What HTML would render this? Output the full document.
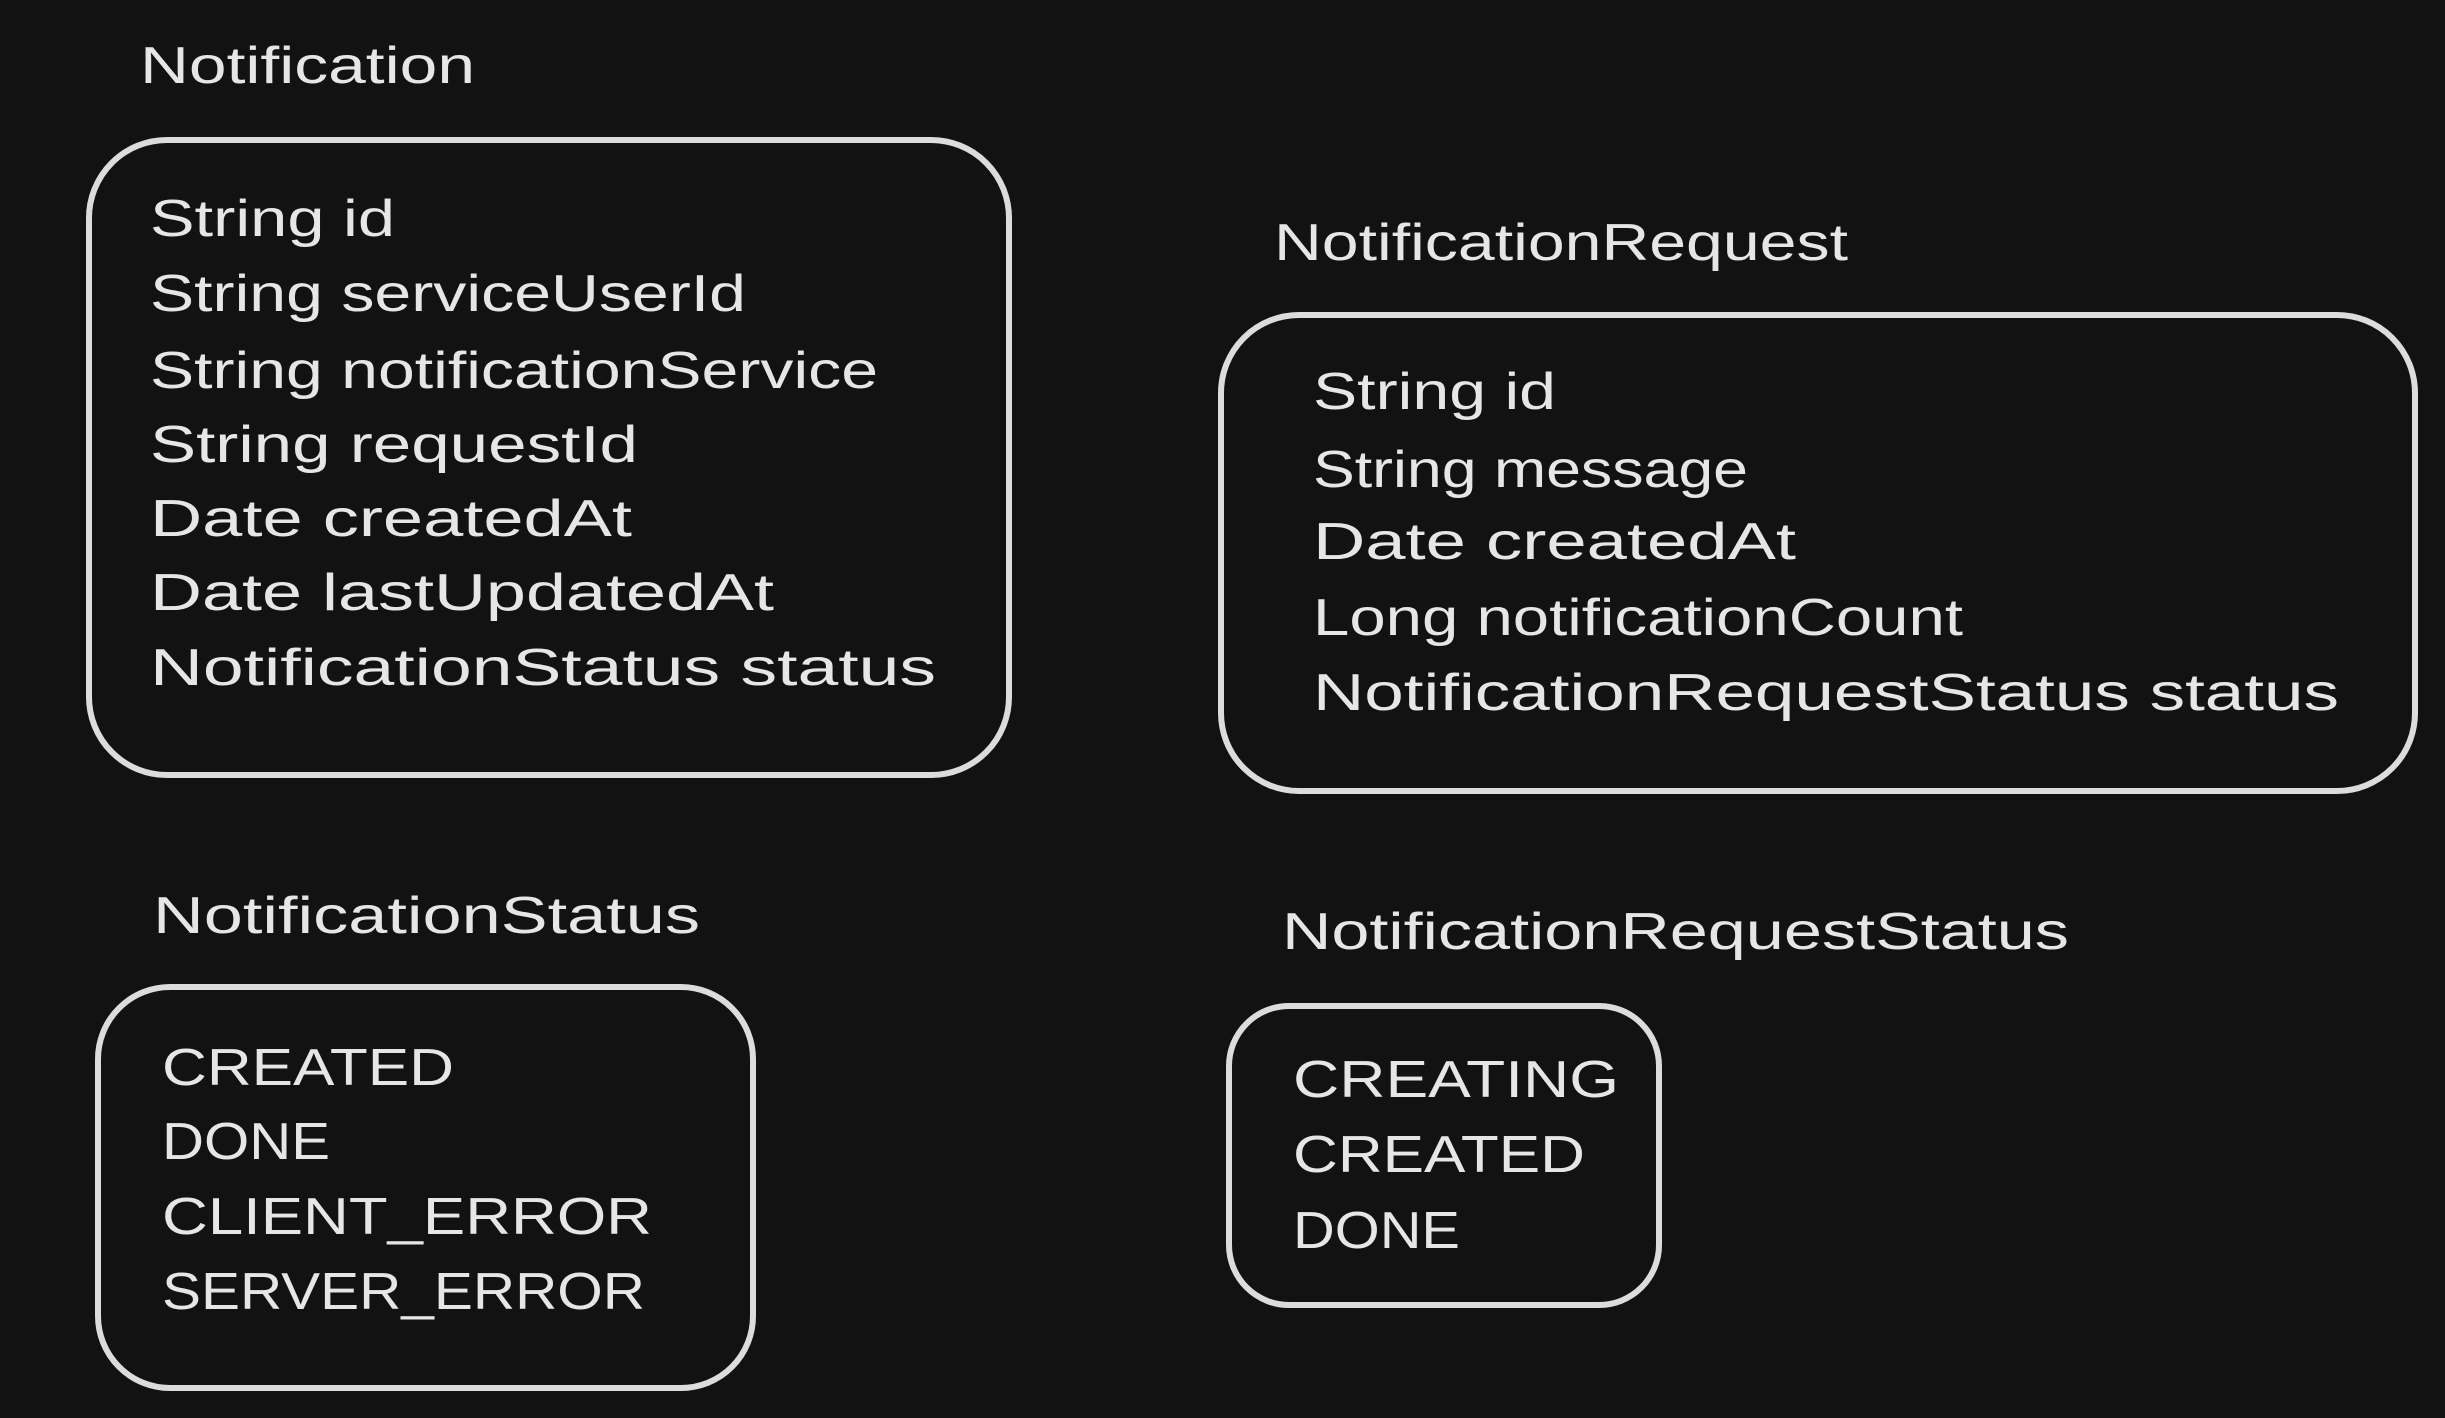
<!DOCTYPE html>
<html><head><meta charset="utf-8"><style>
html,body{margin:0;padding:0;background:#121212;}
svg{display:block;}
text{font-family:"Liberation Sans",sans-serif;font-size:52px;fill:#e6e6e6;}
</style></head><body>
<svg width="2445" height="1418" viewBox="0 0 2445 1418" xmlns="http://www.w3.org/2000/svg">
<g fill="none" stroke="#dcdcdc" stroke-width="6">
<rect x="89" y="140" width="920" height="635" rx="78"/>
<rect x="1221" y="315" width="1194" height="476" rx="78"/>
<rect x="98" y="987" width="655" height="401" rx="72"/>
<rect x="1229" y="1006" width="430" height="299" rx="60"/>
</g>
<g>
<text x="140" y="83" textLength="335" lengthAdjust="spacingAndGlyphs">Notification</text>
<text x="150" y="236" textLength="245" lengthAdjust="spacingAndGlyphs">String id</text>
<text x="150" y="311" textLength="596" lengthAdjust="spacingAndGlyphs">String serviceUserId</text>
<text x="150" y="388" textLength="728" lengthAdjust="spacingAndGlyphs">String notificationService</text>
<text x="150" y="462" textLength="488" lengthAdjust="spacingAndGlyphs">String requestId</text>
<text x="150" y="536" textLength="482" lengthAdjust="spacingAndGlyphs">Date createdAt</text>
<text x="150" y="610" textLength="624" lengthAdjust="spacingAndGlyphs">Date lastUpdatedAt</text>
<text x="150" y="685" textLength="786" lengthAdjust="spacingAndGlyphs">NotificationStatus status</text>

<text x="1274" y="260" textLength="574" lengthAdjust="spacingAndGlyphs">NotificationRequest</text>
<text x="1313" y="409" textLength="243" lengthAdjust="spacingAndGlyphs">String id</text>
<text x="1313" y="487" textLength="435" lengthAdjust="spacingAndGlyphs">String message</text>
<text x="1313" y="559" textLength="483" lengthAdjust="spacingAndGlyphs">Date createdAt</text>
<text x="1313" y="635" textLength="650" lengthAdjust="spacingAndGlyphs">Long notificationCount</text>
<text x="1313" y="710" textLength="1026" lengthAdjust="spacingAndGlyphs">NotificationRequestStatus status</text>

<text x="153" y="933" textLength="547" lengthAdjust="spacingAndGlyphs">NotificationStatus</text>
<text x="162" y="1085" textLength="292" lengthAdjust="spacingAndGlyphs">CREATED</text>
<text x="162" y="1159" textLength="168" lengthAdjust="spacingAndGlyphs">DONE</text>
<text x="162" y="1234" textLength="490" lengthAdjust="spacingAndGlyphs">CLIENT_ERROR</text>
<text x="162" y="1309" textLength="483" lengthAdjust="spacingAndGlyphs">SERVER_ERROR</text>

<text x="1282" y="949" textLength="787" lengthAdjust="spacingAndGlyphs">NotificationRequestStatus</text>
<text x="1293" y="1097" textLength="326" lengthAdjust="spacingAndGlyphs">CREATING</text>
<text x="1293" y="1172" textLength="292" lengthAdjust="spacingAndGlyphs">CREATED</text>
<text x="1293" y="1248" textLength="167" lengthAdjust="spacingAndGlyphs">DONE</text>
</g>
</svg>
</body></html>
